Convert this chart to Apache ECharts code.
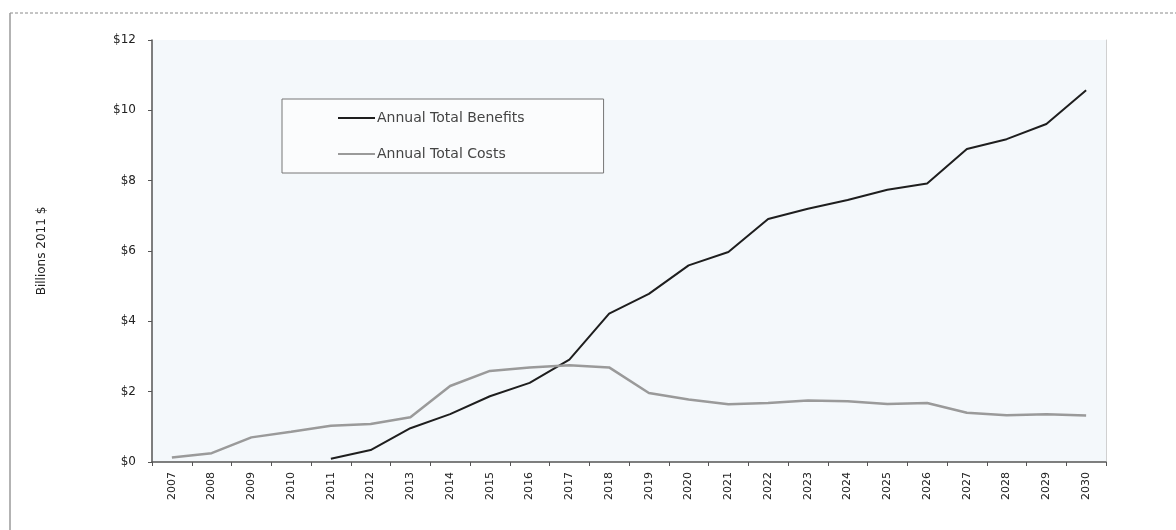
<!DOCTYPE html>
<html>
<head>
<meta charset="utf-8">
<script src="https://cdn.jsdelivr.net/npm/echarts@6/dist/echarts.min.js"></script>
<style>
html,body{margin:0;padding:0;background:#fff;}
#chart{width:1176px;height:530px;}
</style>
</head>
<body>
<div id="chart"></div>
<script>
var years = ['2007','2008','2009','2010','2011','2012','2013','2014','2015','2016','2017','2018','2019','2020','2021','2022','2023','2024','2025','2026','2027','2028','2029','2030'];
var benefits = [null,null,null,null,0.09,0.34,0.96,1.36,1.87,2.25,2.91,4.22,4.78,5.59,5.97,6.91,7.20,7.45,7.74,7.92,8.90,9.18,9.61,10.57];
var costs = [0.13,0.25,0.70,0.86,1.03,1.08,1.27,2.16,2.59,2.69,2.75,2.69,1.96,1.78,1.64,1.68,1.75,1.73,1.65,1.68,1.40,1.33,1.36,1.32];
var seriesNames = ['Annual Total Benefits','Annual Total Costs'];
var yTitle = 'Billions 2011 $';

var chart = echarts.init(document.getElementById('chart'));
chart.setOption({
  animation: false,
  backgroundColor: '#ffffff',
  textStyle: { fontFamily: 'DejaVu Sans' },
  graphic: [
    { type: 'line', shape: { x1: 10, y1: 13, x2: 1176, y2: 13 }, style: { stroke: '#8a8a8a', lineWidth: 1, lineDash: [3, 2] } },
    { type: 'line', shape: { x1: 10, y1: 13, x2: 10, y2: 530 }, style: { stroke: '#9a9a9a', lineWidth: 1.5 } }
  ],
  grid: {
    left: 152, right: 70, top: 40, bottom: 68,
    show: true, backgroundColor: '#f4f8fb', borderWidth: 0
  },
  legend: {
    orient: 'vertical',
    left: 282, top: 99,
    padding: [12, 79, 12, 56],
    itemGap: 22,
    itemWidth: 37, itemHeight: 2,
    icon: 'rect',
    borderColor: '#777', borderWidth: 1,
    backgroundColor: 'rgba(255,255,255,0.6)',
    textStyle: { fontFamily: 'DejaVu Sans', fontSize: 14, color: '#444', padding: [0, 0, 0, -3] },
    data: seriesNames
  },
  xAxis: {
    type: 'category',
    data: years,
    boundaryGap: true,
    axisLine: { lineStyle: { color: '#555', width: 1.5 } },
    axisTick: { show: true, length: 4, lineStyle: { color: '#555' } },
    axisLabel: { rotate: 90, margin: 10, fontSize: 11, color: '#222', fontFamily: 'DejaVu Sans', interval: 0 },
    splitLine: { show: false }
  },
  yAxis: [{
    type: 'value',
    min: 0, max: 12, interval: 2,
    name: yTitle,
    nameLocation: 'middle',
    nameGap: 104,
    nameTextStyle: { fontSize: 12, color: '#222', fontFamily: 'DejaVu Sans' },
    axisLine: { show: true, lineStyle: { color: '#555', width: 1.5 } },
    axisTick: { show: true, length: 4, lineStyle: { color: '#555' } },
    axisLabel: { formatter: function (v) { return '$' + v; }, margin: 16, fontSize: 12, color: '#222', fontFamily: 'DejaVu Sans' },
    splitLine: { show: false }
  }, {
    type: 'value',
    min: 0, max: 12, interval: 2,
    position: 'right',
    axisLine: { show: true, lineStyle: { color: '#d0d0d0', width: 1 } },
    axisTick: { show: false },
    axisLabel: { show: false },
    splitLine: { show: false }
  }],
  series: [{
    name: seriesNames[0],
    type: 'line',
    data: benefits,
    showSymbol: false,
    symbol: 'none',
    color: '#1e1e1e',
    lineStyle: { color: '#1e1e1e', width: 2 },
    connectNulls: false
  }, {
    name: seriesNames[1],
    type: 'line',
    data: costs,
    showSymbol: false,
    symbol: 'none',
    color: '#9a9a9a',
    lineStyle: { color: '#9a9a9a', width: 2.5 }
  }]
});
</script>
</body>
</html>
